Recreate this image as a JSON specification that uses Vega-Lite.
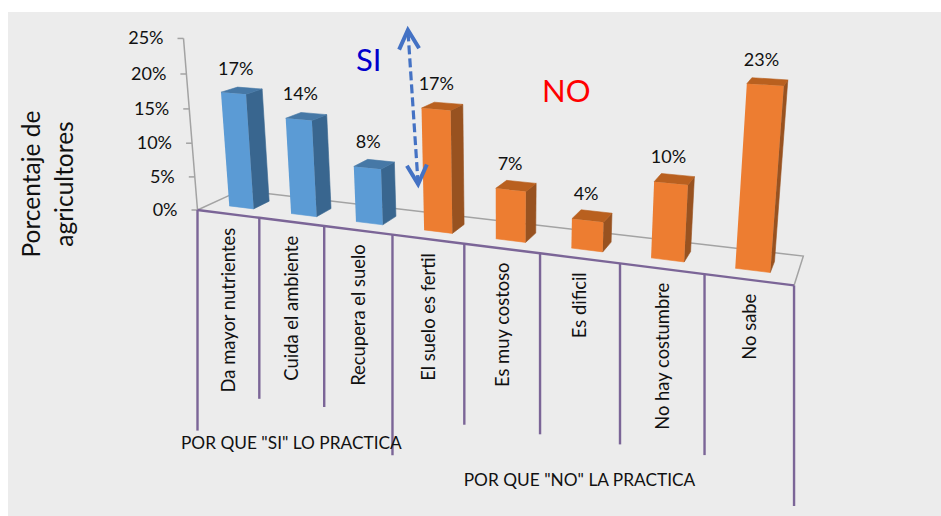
{
  "$schema": "https://vega.github.io/schema/vega-lite/v6.json",
  "width": 933,
  "height": 504,
  "padding": {"left": 8, "top": 12, "right": 0, "bottom": 0},
  "autosize": "none",
  "background": "#ffffff",
  "view": {"fill": "#ececec", "stroke": null},
  "config": {"font": "Lato", "text": {"color": "#111111"}},
  "resolve": {"scale": {"color": "independent"}},
  "datasets": {
    "motivos": [
      {"motivo": "Da mayor nutrientes", "pct": 17, "grupo": "SI", "pos": 0},
      {"motivo": "Cuida el ambiente", "pct": 14, "grupo": "SI", "pos": 1},
      {"motivo": "Recupera el suelo", "pct": 8, "grupo": "SI", "pos": 2},
      {"motivo": "El suelo es fertil", "pct": 17, "grupo": "NO", "pos": 3},
      {"motivo": "Es muy costoso", "pct": 7, "grupo": "NO", "pos": 4},
      {"motivo": "Es dificil", "pct": 4, "grupo": "NO", "pos": 5},
      {"motivo": "No hay costumbre", "pct": 10, "grupo": "NO", "pos": 6},
      {"motivo": "No sabe", "pct": 23, "grupo": "NO", "pos": 7}
    ],
    "escala": [{"pct": 0}, {"pct": 5}, {"pct": 10}, {"pct": 15}, {"pct": 20}, {"pct": 25}],
    "piso": [
      {"u": 0, "d": 0, "orden": 0},
      {"u": 0, "d": 1, "orden": 1},
      {"u": 8, "d": 1, "orden": 2},
      {"u": 8, "d": 0, "orden": 3}
    ],
    "divisiones": [
      {"pos": 0, "nivel": 2}, {"pos": 1, "nivel": 1}, {"pos": 2, "nivel": 1},
      {"pos": 3, "nivel": 2}, {"pos": 4, "nivel": 1}, {"pos": 5, "nivel": 1},
      {"pos": 6, "nivel": 1}, {"pos": 7, "nivel": 1}, {"pos": 8, "nivel": 2}
    ],
    "grupos": [
      {"texto": "POR QUE \"SI\" LO PRACTICA", "pos": 1.5},
      {"texto": "POR QUE \"NO\" LA PRACTICA", "pos": 5.5}
    ],
    "rotulos": [
      {"texto": "SI", "pos": 2.47, "pct": 22.5},
      {"texto": "NO", "pos": 5.14, "pct": 20.2}
    ],
    "flecha": [
      {"punta": "arriba", "pos": 3.29, "pct": 27.77},
      {"punta": "abajo", "pos": 3.38, "pct": 7.5}
    ]
  },
  "encoding": {
    "x": {"field": "px", "type": "quantitative", "axis": null, "scale": {"domain": [8, 941], "nice": false, "zero": false}},
    "y": {
      "field": "py", "type": "quantitative",
      "scale": {"domain": [516, 12], "nice": false, "zero": false},
      "axis": {
        "title": ["Porcentaje de", "agricultores"],
        "labels": false, "ticks": false, "domain": false, "grid": false,
        "titleAngle": -90, "titleAlign": "center", "titleBaseline": "middle",
        "titleX": 24, "titleY": 171.5, "titleLineHeight": 33,
        "titleFont": "Lato", "titleFontSize": 24.5, "titleFontWeight": "normal", "titleColor": "#111111"
      }
    }
  },
  "layer": [
    {
      "data": {"name": "piso"},
      "transform": [
        {"calculate": "0", "as": "h"},
        {"calculate": "1-0.02385*datum.u+0.0625*datum.d-0.00175*datum.h", "as": "w"},
        {"calculate": "(197.5+55.63*datum.u+57.7*datum.d-0.881*datum.h)/datum.w", "as": "px"},
        {"calculate": "(210+2.619*datum.u-7.7*datum.d-6.93*datum.h)/datum.w", "as": "py"}
      ],
      "mark": {"type": "line", "color": "#a3a3a3", "strokeWidth": 1.5},
      "encoding": {"order": {"field": "orden", "type": "quantitative"}}
    },
    {
      "data": {"name": "escala"},
      "transform": [
        {"calculate": "0", "as": "u"}, {"calculate": "0", "as": "d"}, {"calculate": "datum.pct", "as": "h"},
        {"calculate": "1-0.02385*datum.u+0.0625*datum.d-0.00175*datum.h", "as": "w"},
        {"calculate": "(197.5+55.63*datum.u+57.7*datum.d-0.881*datum.h)/datum.w", "as": "px"},
        {"calculate": "(210+2.619*datum.u-7.7*datum.d-6.93*datum.h)/datum.w", "as": "py"}
      ],
      "mark": {"type": "line", "color": "#a3a3a3", "strokeWidth": 1.5},
      "encoding": {"order": {"field": "pct", "type": "quantitative"}}
    },
    {
      "data": {"name": "escala"},
      "transform": [
        {"calculate": "0", "as": "u"}, {"calculate": "0", "as": "d"}, {"calculate": "datum.pct", "as": "h"},
        {"calculate": "1-0.02385*datum.u+0.0625*datum.d-0.00175*datum.h", "as": "w"},
        {"calculate": "(197.5+55.63*datum.u+57.7*datum.d-0.881*datum.h)/datum.w", "as": "px"},
        {"calculate": "(210+2.619*datum.u-7.7*datum.d-6.93*datum.h)/datum.w", "as": "py"},
        {"calculate": "datum.px-6", "as": "marca"}
      ],
      "mark": {"type": "rule", "color": "#a3a3a3", "strokeWidth": 1.5},
      "encoding": {"x2": {"field": "marca"}}
    },
    {
      "data": {"name": "escala"},
      "transform": [
        {"calculate": "0", "as": "u"}, {"calculate": "0", "as": "d"}, {"calculate": "datum.pct", "as": "h"},
        {"calculate": "1-0.02385*datum.u+0.0625*datum.d-0.00175*datum.h", "as": "w"},
        {"calculate": "(197.5+55.63*datum.u+57.7*datum.d-0.881*datum.h)/datum.w", "as": "px"},
        {"calculate": "(210+2.619*datum.u-7.7*datum.d-6.93*datum.h)/datum.w", "as": "py"},
        {"calculate": "datum.pct+'%'", "as": "etiqueta"}
      ],
      "mark": {"type": "text", "align": "right", "baseline": "middle", "fontSize": 18, "dx": -20, "dy": 1},
      "encoding": {"text": {"field": "etiqueta"}}
    },
    {
      "data": {"name": "divisiones"},
      "transform": [
        {"calculate": "datum.pos", "as": "u"}, {"calculate": "0", "as": "d"}, {"calculate": "0", "as": "h"},
        {"calculate": "1-0.02385*datum.u+0.0625*datum.d-0.00175*datum.h", "as": "w"},
        {"calculate": "(197.5+55.63*datum.u+57.7*datum.d-0.881*datum.h)/datum.w", "as": "px"},
        {"calculate": "(210+2.619*datum.u-7.7*datum.d-6.93*datum.h)/datum.w", "as": "py"},
        {"calculate": "datum.py+(datum.nivel==2?220.6:181)", "as": "abajo"}
      ],
      "mark": {"type": "rule", "color": "#7b6597", "strokeWidth": 2.4},
      "encoding": {"y2": {"field": "abajo"}}
    },
    {
      "data": {"name": "divisiones"},
      "transform": [
        {"calculate": "datum.pos", "as": "u"}, {"calculate": "0", "as": "d"}, {"calculate": "0", "as": "h"},
        {"calculate": "1-0.02385*datum.u+0.0625*datum.d-0.00175*datum.h", "as": "w"},
        {"calculate": "(197.5+55.63*datum.u+57.7*datum.d-0.881*datum.h)/datum.w", "as": "px"},
        {"calculate": "(210+2.619*datum.u-7.7*datum.d-6.93*datum.h)/datum.w", "as": "py"}
      ],
      "mark": {"type": "line", "color": "#7b6597", "strokeWidth": 2.4},
      "encoding": {"order": {"field": "pos", "type": "quantitative"}}
    },
    {
      "data": {"name": "motivos"},
      "transform": [
        {"calculate": "[0,1,2]", "as": "cara"},
        {"flatten": ["cara"]},
        {"calculate": "[0,1,2,3]", "as": "k"},
        {"flatten": ["k"]},
        {"calculate": "datum.pos+[[0.3,0.7,0.7,0.3],[0.7,0.7,0.7,0.7],[0.3,0.3,0.7,0.7]][datum.cara][datum.k]", "as": "u"},
        {"calculate": "[[0.31,0.31,0.31,0.31],[0.31,0.69,0.69,0.31],[0.31,0.69,0.69,0.31]][datum.cara][datum.k]", "as": "d"},
        {"calculate": "datum.pct*[[1,1,0,0],[1,1,0,0],[1,1,1,1]][datum.cara][datum.k]", "as": "h"},
        {"calculate": "1-0.02385*datum.u+0.0625*datum.d-0.00175*datum.h", "as": "w"},
        {"calculate": "(197.5+55.63*datum.u+57.7*datum.d-0.881*datum.h)/datum.w", "as": "px"},
        {"calculate": "(210+2.619*datum.u-7.7*datum.d-6.93*datum.h)/datum.w", "as": "py"},
        {"calculate": "datum.grupo+datum.cara", "as": "tono"}
      ],
      "mark": {"type": "line", "strokeWidth": 0.6},
      "encoding": {
        "detail": {"field": "motivo"},
        "order": {"field": "k", "type": "quantitative"},
        "fill": {
          "field": "tono", "type": "nominal", "legend": null,
          "scale": {"domain": ["SI0", "SI1", "SI2", "NO0", "NO1", "NO2"], "range": ["#5b9bd5", "#39668f", "#4678a6", "#ed7d31", "#985220", "#b9601f"]}
        },
        "color": {
          "field": "tono", "type": "nominal", "legend": null,
          "scale": {"domain": ["SI0", "SI1", "SI2", "NO0", "NO1", "NO2"], "range": ["#5b9bd5", "#39668f", "#4678a6", "#ed7d31", "#985220", "#b9601f"]}
        }
      }
    },
    {
      "data": {"name": "motivos"},
      "transform": [
        {"calculate": "datum.pos+0.5", "as": "u"}, {"calculate": "0.5", "as": "d"}, {"calculate": "datum.pct", "as": "h"},
        {"calculate": "1-0.02385*datum.u+0.0625*datum.d-0.00175*datum.h", "as": "w"},
        {"calculate": "(197.5+55.63*datum.u+57.7*datum.d-0.881*datum.h)/datum.w", "as": "px"},
        {"calculate": "(210+2.619*datum.u-7.7*datum.d-6.93*datum.h)/datum.w", "as": "py"},
        {"calculate": "datum.pct+'%'", "as": "etiqueta"}
      ],
      "mark": {"type": "text", "align": "center", "baseline": "middle", "fontSize": 18, "dx": -6, "dy": -21},
      "encoding": {"text": {"field": "etiqueta"}}
    },
    {
      "data": {"name": "motivos"},
      "transform": [
        {"calculate": "datum.pos+0.5", "as": "u"}, {"calculate": "0", "as": "d"}, {"calculate": "0", "as": "h"},
        {"calculate": "1-0.02385*datum.u+0.0625*datum.d-0.00175*datum.h", "as": "w"},
        {"calculate": "(197.5+55.63*datum.u+57.7*datum.d-0.881*datum.h)/datum.w+1", "as": "px"},
        {"calculate": "(210+2.619*datum.u-7.7*datum.d-6.93*datum.h)/datum.w+14", "as": "py"}
      ],
      "mark": {"type": "text", "angle": 270, "align": "right", "baseline": "middle", "fontSize": 18.4},
      "encoding": {"text": {"field": "motivo"}}
    },
    {
      "data": {"name": "grupos"},
      "transform": [
        {"calculate": "datum.pos", "as": "u"}, {"calculate": "0", "as": "d"}, {"calculate": "0", "as": "h"},
        {"calculate": "1-0.02385*datum.u+0.0625*datum.d-0.00175*datum.h", "as": "w"},
        {"calculate": "(197.5+55.63*datum.u+57.7*datum.d-0.881*datum.h)/datum.w", "as": "px"},
        {"calculate": "(210+2.619*datum.u-7.7*datum.d-6.93*datum.h)/datum.w+222.5", "as": "py"}
      ],
      "mark": {"type": "text", "align": "center", "baseline": "middle", "fontSize": 17.3},
      "encoding": {"text": {"field": "texto"}}
    },
    {
      "data": {"name": "rotulos"},
      "transform": [
        {"calculate": "datum.pos", "as": "u"}, {"calculate": "0.5", "as": "d"}, {"calculate": "datum.pct", "as": "h"},
        {"calculate": "1-0.02385*datum.u+0.0625*datum.d-0.00175*datum.h", "as": "w"},
        {"calculate": "(197.5+55.63*datum.u+57.7*datum.d-0.881*datum.h)/datum.w", "as": "px"},
        {"calculate": "(210+2.619*datum.u-7.7*datum.d-6.93*datum.h)/datum.w", "as": "py"}
      ],
      "mark": {"type": "text", "align": "center", "baseline": "middle", "fontSize": 31, "dy": 1.5},
      "encoding": {
        "text": {"field": "texto"},
        "color": {"field": "texto", "type": "nominal", "legend": null, "scale": {"domain": ["SI", "NO"], "range": ["#0000cc", "#ff0000"]}}
      }
    },
    {
      "data": {"name": "flecha"},
      "transform": [
        {"calculate": "datum.pos", "as": "u"}, {"calculate": "0", "as": "d"}, {"calculate": "datum.pct", "as": "h"},
        {"calculate": "1-0.02385*datum.u+0.0625*datum.d-0.00175*datum.h", "as": "w"},
        {"calculate": "(197.5+55.63*datum.u+57.7*datum.d-0.881*datum.h)/datum.w", "as": "px"},
        {"calculate": "(210+2.619*datum.u-7.7*datum.d-6.93*datum.h)/datum.w", "as": "py"}
      ],
      "mark": {"type": "line", "color": "#4472c4", "strokeWidth": 3.2, "strokeDash": [9, 4]},
      "encoding": {"order": {"field": "pct", "type": "quantitative"}}
    },
    {
      "data": {"name": "flecha"},
      "transform": [
        {"calculate": "datum.pos", "as": "u"}, {"calculate": "0", "as": "d"}, {"calculate": "datum.pct", "as": "h"},
        {"calculate": "1-0.02385*datum.u+0.0625*datum.d-0.00175*datum.h", "as": "w"},
        {"calculate": "(197.5+55.63*datum.u+57.7*datum.d-0.881*datum.h)/datum.w", "as": "px"},
        {"calculate": "(210+2.619*datum.u-7.7*datum.d-6.93*datum.h)/datum.w", "as": "py"}
      ],
      "mark": {"type": "point", "filled": false, "color": "#4472c4", "opacity": 1, "strokeWidth": 4, "size": 400, "angle": -3.7},
      "encoding": {
        "shape": {
          "field": "punta", "type": "nominal", "legend": null,
          "scale": {"domain": ["arriba", "abajo"], "range": ["M -1 1.9 L 0 0 L 1 1.9", "M -1 -1.9 L 0 0 L 1 -1.9"]}
        }
      }
    }
  ]
}
